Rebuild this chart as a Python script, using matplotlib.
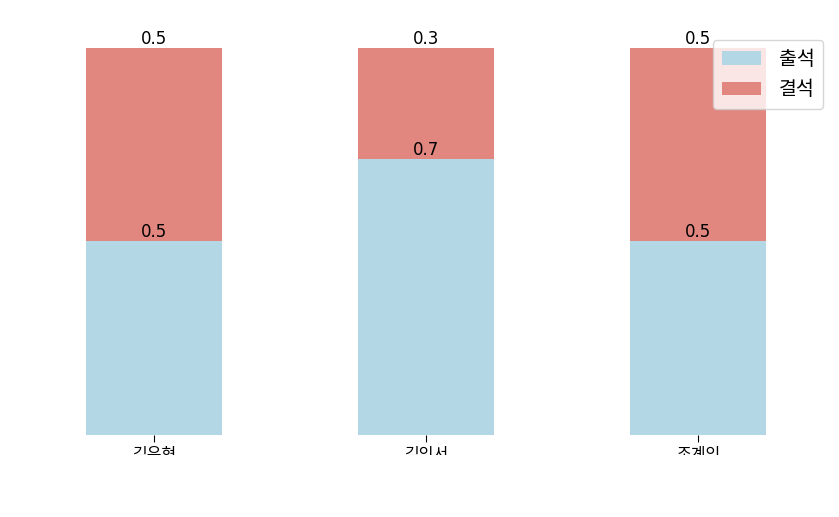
import numpy as np
import matplotlib.pyplot as plt
from matplotlib.patches import Rectangle

plt.rcParams['font.family'] = ['DejaVu Sans', 'Noto Sans CJK KR']

names = ['김유현', '김인서', '조계인']
attend = [0.5, 0.714, 0.5]
absent = [0.5, 0.286, 0.5]

fig = plt.figure(figsize=(8.39, 5.17), dpi=100)
ax = fig.add_axes([52 / 839, 82 / 517, 748 / 839, 406.4 / 517])

x = np.arange(len(names))
ax.bar(x, attend, width=0.5, color='#b4d7e5', label='출석')
ax.bar(x, absent, width=0.5, bottom=attend, color='#e2877f', label='결석')

for i in range(len(names)):
    ax.text(x[i], attend[i], str(round(attend[i], 1)), ha='center', va='bottom', fontsize=12)
    ax.text(x[i], attend[i] + absent[i], str(round(absent[i], 1)), ha='center', va='bottom', fontsize=12)

ax.set_xticks(x)
ax.set_xticklabels(names, fontsize=11.5, family=['Noto Sans CJK KR'])
ax.tick_params(axis='x', length=5, pad=3)
ax.set_yticks([])
for s in ax.spines.values():
    s.set_visible(False)
ax.set_ylim(0, 1.05)

ax.legend(loc='upper right', bbox_to_anchor=(823 / 839, 1 - 40 / 517),
          bbox_transform=fig.transFigure, borderaxespad=0,
          handletextpad=0.9, borderpad=0.45,
          prop={'family': 'Noto Sans CJK KR', 'size': 14})

# bottom of the picture is cut off in the reference
fig.add_artist(Rectangle((0, 0), 1, 62 / 517, transform=fig.transFigure,
                         facecolor='white', edgecolor='none', zorder=10))

fig.savefig('out.png', dpi=100)
